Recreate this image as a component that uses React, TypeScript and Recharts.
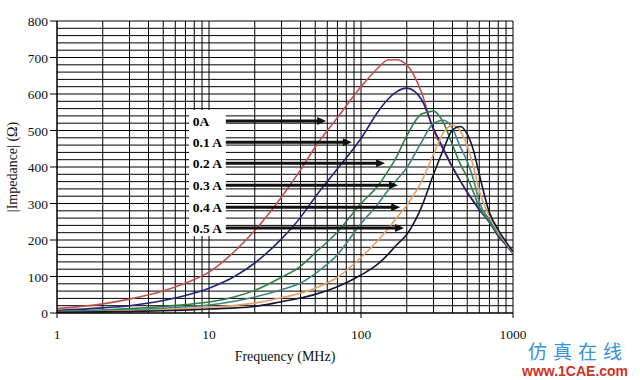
import React from 'react';
import {
  LineChart, Line, XAxis, YAxis, CartesianGrid, ReferenceArea, ReferenceLine, Label,
} from 'recharts';

// frequency points (MHz) and |Z| in ohms
const freq = [1, 2, 3, 5, 7, 10, 15, 20, 30, 40, 50, 70, 100, 130, 150, 170, 200, 250, 300, 350, 400, 450, 500, 550, 600, 700, 800, 900, 1000];
const z0A = [12, 25, 38, 60, 82, 112, 172, 226, 318, 392, 455, 535, 620, 672, 693, 694, 680, 605, 500, 445, 398, 362, 332, 307, 285, 250, 213, 188, 165];
const z01A = [7, 14, 20, 34, 48, 68, 102, 137, 203, 262, 318, 395, 478, 553, 585, 605, 616, 585, 505, 448, 400, 362, 330, 305, 283, 248, 211, 186, 163];
const z02A = [4, 8, 12, 18, 23, 30, 45, 62, 98, 128, 165, 222, 300, 350, 388, 425, 485, 545, 553, 520, 460, 408, 372, 330, 290, 250, 215, 189, 165];
const z03A = [3, 6, 8, 13, 17, 22, 33, 44, 64, 82, 108, 160, 245, 300, 335, 362, 398, 468, 520, 528, 505, 455, 415, 365, 305, 255, 218, 190, 165];
const z04A = [2, 4, 6, 9, 12, 16, 21, 27, 42, 54, 68, 98, 152, 200, 230, 258, 295, 360, 435, 495, 514, 498, 458, 400, 335, 265, 222, 192, 166];
const z05A = [2, 3, 4, 6, 8, 11, 14, 18, 31, 41, 51, 72, 104, 135, 160, 185, 215, 290, 380, 450, 502, 511, 490, 445, 380, 275, 228, 195, 168];

const gridFreq = [1, 2, 3, 4, 5, 6, 7, 8, 9, 10, 20, 30, 40, 50, 60, 70, 80, 90, 100, 200, 300, 400, 500, 600, 700, 800, 900, 1000];
const gridZ = Array.from({ length: 41 }, (_, i) => i * 20);

// annotation rows: label, level (ohm), arrow tip frequency
const arrowLabels = ['0A', '0.1 A', '0.2 A', '0.3 A', '0.4 A', '0.5 A'];
const arrowLevels = [526, 468, 410, 350, 290, 233];
const arrowTips = [59, 87, 144, 175, 181, 192];
const arrowStart = 12.9;

const keys = ['a0', 'a1', 'a2', 'a3', 'a4', 'a5'];
const colors = ['#c0504d', '#23237a', '#2f7f45', '#3f8282', '#e2a264', '#161632'];

const data = freq.map((f, i) => ({
  f,
  a0: z0A[i], a1: z01A[i], a2: z02A[i], a3: z03A[i], a4: z04A[i], a5: z05A[i],
}));

const font = '"Liberation Serif", "Times New Roman", serif';

const XTick = (props: any) => {
  const { x, y, payload } = props;
  const v = payload.value;
  if (![1, 10, 100, 1000].includes(v)) return <g />;
  return (
    <g>
      <line x1={x} x2={x} y1={y - 5} y2={y} stroke="#000" />
      <text x={x} y={y + 21} textAnchor="middle" fontSize={13.5} fontFamily={font} fill="#111">{v}</text>
    </g>
  );
};

const YTick = (props: any) => {
  const { x, y, payload } = props;
  const v = payload.value;
  if (v % 100 !== 0) return <g />;
  return (
    <g>
      <line x1={x} x2={x + 7} y1={y} y2={y} stroke="#000" />
      <text x={x - 2} y={y + 5} textAnchor="end" fontSize={13.5} fontFamily={font} fill="#111">{v}</text>
    </g>
  );
};

const arrowShape = (label: string) => (props: any) => {
  const { x1, y1, x2 } = props;
  return (
    <g>
      <text x={x1 - 33} y={y1 + 5} fontSize={13.5} fontWeight="bold" fontFamily={font} fill="#000">{label}</text>
      <line x1={x1} y1={y1} x2={x2 - 7} y2={y1} stroke="#111" strokeWidth={3} />
      <polygon points={`${x2},${y1} ${x2 - 9},${y1 - 4} ${x2 - 9},${y1 + 4}`} fill="#111" />
    </g>
  );
};

export default function App() {
  return (
    <div style={{ position: 'absolute', left: 0, top: 0, width: 640, height: 380, background: '#fff', fontFamily: font }}>
      <LineChart width={640} height={380} data={data} margin={{ top: 21, right: 127, left: 0, bottom: 0 }}>
        <CartesianGrid stroke="#000" strokeWidth={1} />
        <XAxis
          dataKey="f"
          type="number"
          scale="log"
          domain={[1, 1000]}
          ticks={gridFreq}
          interval={0}
          allowDataOverflow
          axisLine={{ stroke: '#000' }}
          tickLine={false}
          tickSize={5}
          tickMargin={0}
          tick={<XTick />}
          height={67}
        >
          <Label value="Frequency (MHz)" position="insideBottom" offset={19} style={{ fontSize: 14, fontFamily: font, fill: '#111' }} />
        </XAxis>
        <YAxis
          type="number"
          domain={[0, 800]}
          ticks={gridZ}
          interval={0}
          axisLine={{ stroke: '#000' }}
          tickLine={false}
          tickSize={7}
          tickMargin={0}
          tick={<YTick />}
          width={57}
        >
          <Label value="|Impedance| (Ω)" angle={-90} position="insideLeft" offset={12} style={{ fontSize: 14, fontFamily: font, fill: '#111', textAnchor: 'middle' }} />
        </YAxis>
        <ReferenceArea x1={7.4} x2={12.9} y1={211} y2={556} fill="#fff" fillOpacity={1} stroke="none" />
        {keys.map((k, i) => (
          <Line
            key={k}
            dataKey={k}
            type="monotone"
            stroke={colors[i]}
            strokeWidth={1.6}
            dot={false}
            isAnimationActive={false}
          />
        ))}
        {arrowLabels.map((lab, i) => (
          <ReferenceLine
            key={lab}
            segment={[{ x: arrowStart, y: arrowLevels[i] }, { x: arrowTips[i], y: arrowLevels[i] }]}
            shape={arrowShape(lab)}
          />
        ))}
      </LineChart>
      <div style={{ position: 'absolute', left: 528, top: 341, fontSize: 19, lineHeight: 1, letterSpacing: 6, color: '#3a90dc', fontFamily: '"Noto Sans CJK SC", sans-serif' }}>仿真在线</div>
      <div style={{ position: 'absolute', left: 522, top: 364, fontSize: 14, lineHeight: 1, fontWeight: 'bold', color: '#d0321e', fontFamily: '"Liberation Sans", sans-serif' }}>www.1CAE.com</div>
    </div>
  );
}
